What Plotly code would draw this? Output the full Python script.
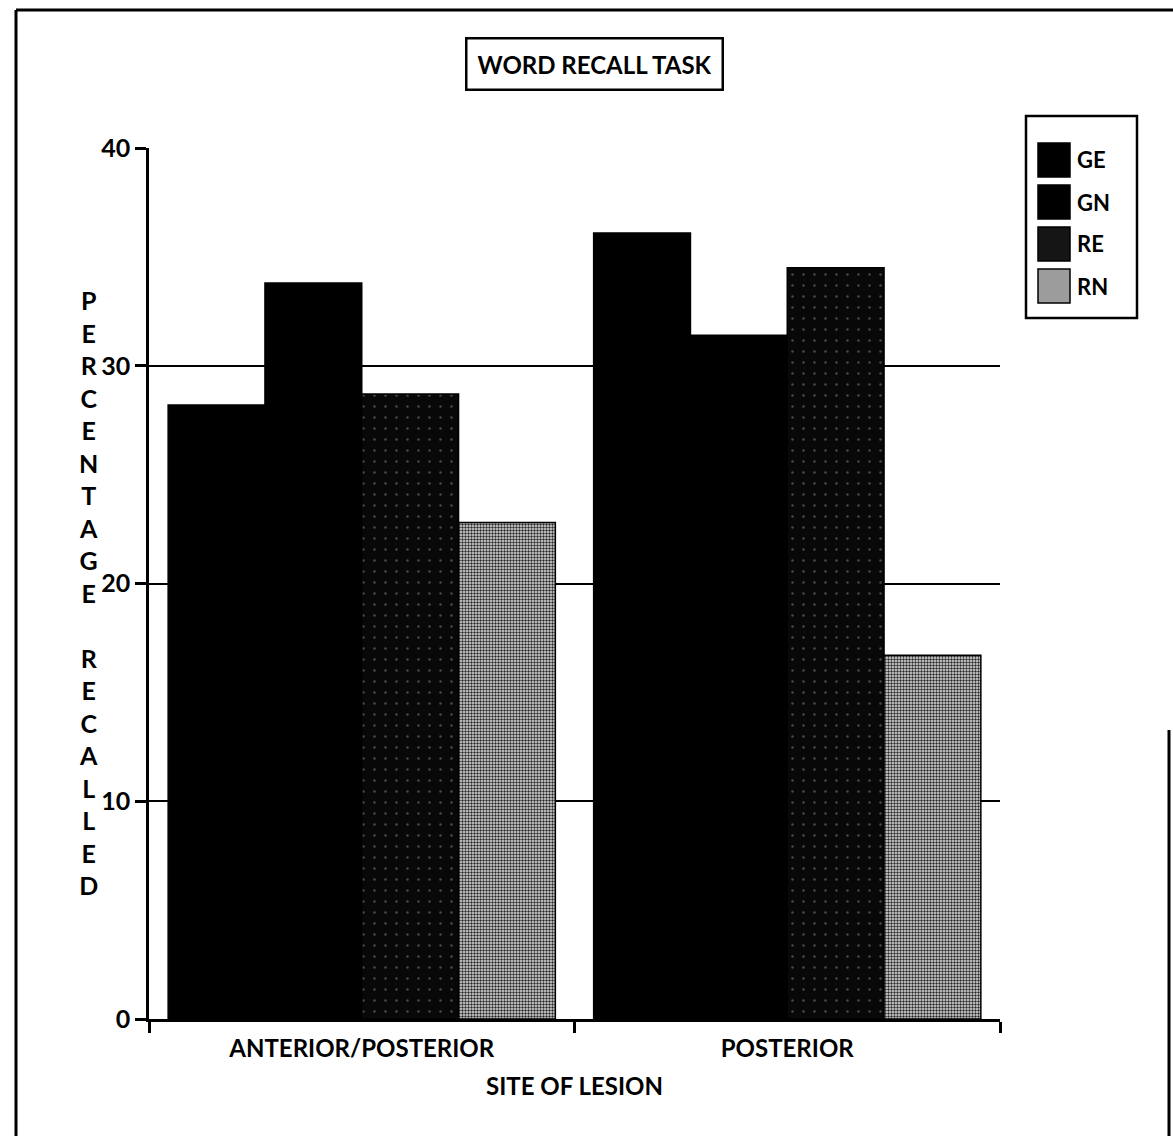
import plotly.graph_objects as go

# ---- data ----
categories = ["ANTERIOR/POSTERIOR", "POSTERIOR"]
series_names = ["GE", "GN", "RE", "RN"]
ge_values = [28.2, 36.1]
gn_values = [33.8, 31.4]
re_values = [28.7, 34.5]
rn_values = [22.8, 16.7]
y_ticks = [0, 10, 20, 30, 40]
title_text = "WORD RECALL TASK"
x_title = "SITE OF LESION"
y_title = "PERCENTAGE RECALLED"

W, H = 1173, 1136
L, R, T, B = 149, 173, 148, 117
PW, PH = W - L - R, H - T - B

def px(x):
    return (x - L) / PW

def py(y):
    return (H - B - y) / PH

FONT = "Lato"

styles = {
    "GE": dict(color="#000000"),
    "GN": dict(color="#000000"),
    "RE": dict(color="#080808",
               pattern=dict(shape=".", fgcolor="#4a4a4a", bgcolor="#080808",
                            size=11, solidity=0.04, fillmode="replace")),
    "RN": dict(color="#a0a0a0",
               pattern=dict(shape=".", fgcolor="#2a2a2a", bgcolor="#e4e4e4",
                            size=3, solidity=0.5, fillmode="replace")),
}
swatch_fill = {"GE": "#000000", "GN": "#000000", "RE": "#151515", "RN": "#9c9c9c"}

values = [ge_values, gn_values, re_values, rn_values]

fig = go.Figure()
for name, vals in zip(series_names, values):
    fig.add_trace(go.Bar(
        x=categories, y=vals, name=name, showlegend=False,
        marker=dict(**styles[name], line=dict(color="#000000", width=1.5)),
    ))

fig.update_layout(
    width=W, height=H,
    margin=dict(l=L, r=R, t=T, b=B, autoexpand=False),
    paper_bgcolor="white", plot_bgcolor="white",
    barmode="group", bargap=0.09, bargroupgap=0.0,
    font=dict(family=FONT, size=24, color="black"),
    showlegend=False,
)

fig.update_xaxes(
    showline=True, linecolor="black", linewidth=2.5,
    ticks="outside", tickson="boundaries", ticklen=11, tickwidth=2.5, tickcolor="black",
    showgrid=False, ticklabelstandoff=6,
    tickfont=dict(family=FONT, size=24, color="black", weight="bold"),
    title=dict(text=x_title, font=dict(family=FONT, size=24, color="black", weight="bold"), standoff=18),
)
fig.update_yaxes(
    range=[0, 40], tickvals=y_ticks, ticktext=[str(v) for v in y_ticks],
    showline=True, linecolor="black", linewidth=2.5,
    ticks="outside", ticklen=11, tickwidth=2.5, tickcolor="black",
    showgrid=True, gridcolor="black", gridwidth=2, zeroline=False,
    tickfont=dict(family=FONT, size=25, color="black", weight="bold"),
)

# vertical stacked y-axis title
letters = "<br>".join(ch if ch != " " else " " for ch in y_title)
fig.add_annotation(
    xref="paper", yref="paper", x=px(88), y=py(592), xanchor="center", yanchor="middle",
    text=letters, showarrow=False,
    font=dict(family=FONT, size=25, color="black", weight="bold"),
)

# boxed title
fig.add_annotation(
    xref="paper", yref="paper", x=px(594), y=py(64), xanchor="center", yanchor="middle",
    text=title_text, showarrow=False, bordercolor="black", borderwidth=2.5, borderpad=10,
    bgcolor="white",
    font=dict(family=FONT, size=24, color="black", weight="bold"),
)

# legend box (drawn manually to get large swatches)
lg_left, lg_right, lg_top, lg_bottom = 1026, 1137, 116, 318
fig.add_shape(type="rect", xref="paper", yref="paper",
              x0=px(lg_left), x1=px(lg_right), y0=py(lg_bottom), y1=py(lg_top),
              line=dict(color="black", width=2.5), fillcolor="white", layer="above")
item_y0 = 160
item_step = 42
for i, name in enumerate(series_names):
    cy = item_y0 + i * item_step
    fig.add_shape(type="rect", xref="paper", yref="paper",
                  x0=px(1038), x1=px(1070), y0=py(cy + 17), y1=py(cy - 17),
                  line=dict(color="black", width=1.5), fillcolor=swatch_fill[name], layer="above")
    fig.add_annotation(xref="paper", yref="paper", x=px(1075), y=py(cy),
                       xanchor="left", yanchor="middle", text=name, showarrow=False,
                       font=dict(family=FONT, size=22, color="black", weight="bold"))

# outer page border (partially faded in the scan on the right)
border = dict(color="black", width=3)
fig.add_shape(type="line", xref="paper", yref="paper",
              x0=px(16), x1=px(1173), y0=py(10), y1=py(10), line=border, layer="above")
fig.add_shape(type="line", xref="paper", yref="paper",
              x0=px(16), x1=px(16), y0=py(10), y1=py(1136), line=border, layer="above")
fig.add_shape(type="line", xref="paper", yref="paper",
              x0=px(1169), x1=px(1169), y0=py(730), y1=py(1136), line=border, layer="above")

fig.write_html("out.html")
